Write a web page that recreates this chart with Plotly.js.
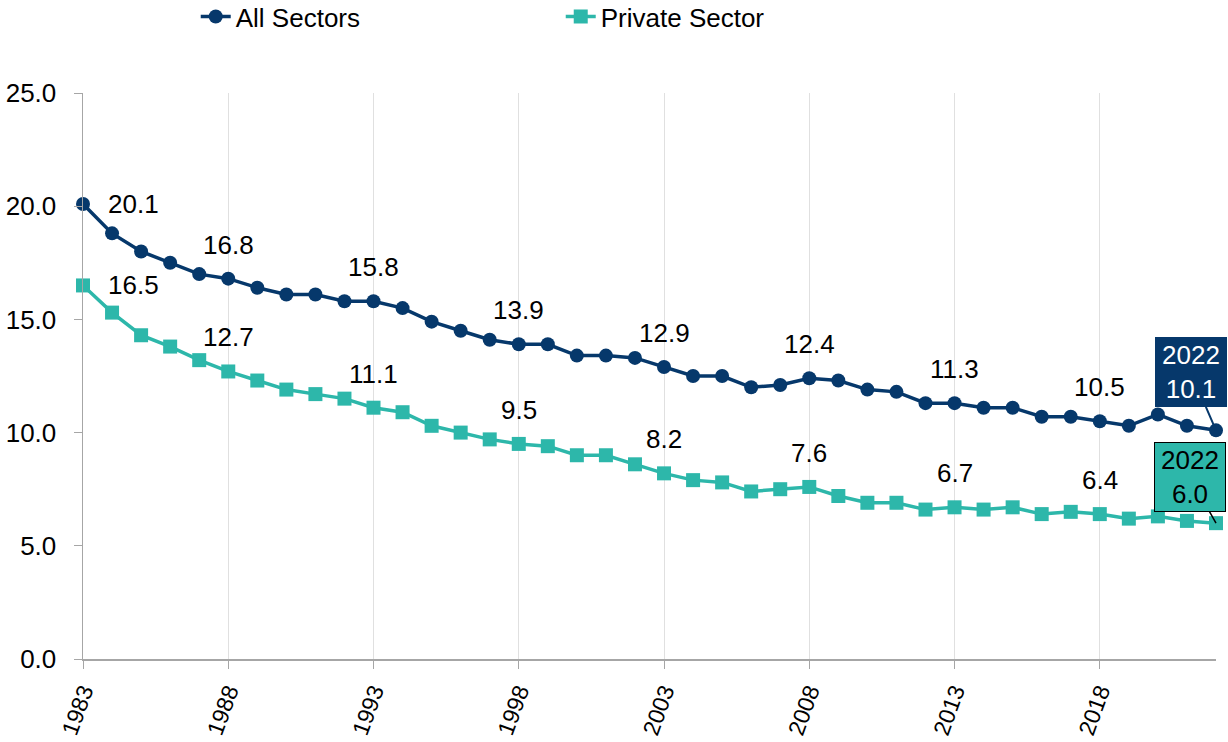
<!DOCTYPE html>
<html>
<head>
<meta charset="utf-8">
<script src="https://cdn.plot.ly/plotly-3.0.1.min.js"></script>
<style>
  html, body { margin: 0; padding: 0; background: #fff; }
  #chart { width: 1228px; height: 742px; }
</style>
</head>
<body>
<div id="chart"></div>
<script>
const years = [];
for (let y = 1983; y <= 2022; y++) years.push(y);

const allSectors = [20.1, 18.8, 18.0, 17.5, 17.0, 16.8, 16.4, 16.1, 16.1, 15.8,
  15.8, 15.5, 14.9, 14.5, 14.1, 13.9, 13.9, 13.4, 13.4, 13.3,
  12.9, 12.5, 12.5, 12.0, 12.1, 12.4, 12.3, 11.9, 11.8, 11.3,
  11.3, 11.1, 11.1, 10.7, 10.7, 10.5, 10.3, 10.8, 10.3, 10.1];

const privateSector = [16.5, 15.3, 14.3, 13.8, 13.2, 12.7, 12.3, 11.9, 11.7, 11.5,
  11.1, 10.9, 10.3, 10.0, 9.7, 9.5, 9.4, 9.0, 9.0, 8.6,
  8.2, 7.9, 7.8, 7.4, 7.5, 7.6, 7.2, 6.9, 6.9, 6.6,
  6.7, 6.6, 6.7, 6.4, 6.5, 6.4, 6.2, 6.3, 6.1, 6.0];

const tickYears = [1983, 1988, 1993, 1998, 2003, 2008, 2013, 2018];
const labelYears = [1983, 1988, 1993, 1998, 2003, 2008, 2013, 2018];

const navy = "#06386b";
const teal = "#2db7aa";
const font = "Liberation Sans, Arial, sans-serif";

const traces = [
  {
    x: years, y: allSectors, name: "All Sectors",
    type: "scatter", mode: "lines+markers",
    line: { color: navy, width: 3.5 },
    marker: { symbol: "circle", size: 14, color: navy },
    cliponaxis: false,
  },
  {
    x: years, y: privateSector, name: "Private Sector",
    type: "scatter", mode: "lines+markers",
    line: { color: teal, width: 3.5 },
    marker: { symbol: "square", size: 14, color: teal },
    cliponaxis: false,
  },
];

// data labels every 5 years
const annotations = [];
[allSectors, privateSector].forEach(series => {
  labelYears.forEach(yr => {
    const v = series[years.indexOf(yr)];
    const first = yr === years[0];
    annotations.push({
      x: yr, y: v, text: v.toFixed(1), showarrow: false,
      xshift: first ? 50 : 0, yshift: first ? 0 : 34,
      font: { family: font, size: 26, color: "#000" },
    });
  });
});

// callouts for the last year
const last = years.length - 1;
annotations.push({
  x: years[last], y: allSectors[last],
  text: years[last] + "<br>" + allSectors[last].toFixed(1),
  showarrow: true, arrowhead: 0, arrowwidth: 2, arrowcolor: navy,
  ax: -25, ay: -58,
  bgcolor: navy, bordercolor: navy, borderwidth: 1, borderpad: 2,
  width: 66, font: { family: font, size: 26, color: "#fff" },
});
annotations.push({
  x: years[last], y: privateSector[last],
  text: years[last] + "<br>" + privateSector[last].toFixed(1),
  showarrow: true, arrowhead: 0, arrowwidth: 1.5, arrowcolor: "#000",
  ax: -26, ay: -46,
  bgcolor: teal, bordercolor: "#000", borderwidth: 1, borderpad: 2,
  width: 66, font: { family: font, size: 26, color: "#000" },
});

const layout = {
  width: 1228, height: 742,
  margin: { l: 83, r: 12, t: 93, b: 83, autoexpand: false },
  paper_bgcolor: "#fff", plot_bgcolor: "#fff",
  font: { family: font, size: 26, color: "#000" },
  showlegend: true,
  legend: {
    orientation: "h", x: 0.0995, xanchor: "left", y: 1.135, yanchor: "middle",
    entrywidth: 320, font: { family: font, size: 26, color: "#000" },
  },
  xaxis: {
    range: [1983, 2022],
    tickvals: tickYears, ticktext: tickYears.map(String),
    tickangle: -70, ticks: "outside", ticklen: 8, tickcolor: "#a6a6a6",
    tickfont: { family: font, size: 23, color: "#000" },
    showgrid: true, gridcolor: "#e0e0e0", gridwidth: 1,
    showline: true, linecolor: "#a6a6a6", linewidth: 2,
    zeroline: false,
  },
  yaxis: {
    range: [0, 25], dtick: 5, tickformat: ".1f",
    ticks: "outside", ticklen: 8, tickcolor: "#a6a6a6",
    ticklabelstandoff: 12,
    tickfont: { family: font, size: 26, color: "#000" },
    showgrid: false, showline: true, linecolor: "#a6a6a6", linewidth: 1.5,
    zeroline: false,
  },
  annotations: annotations,
};

Plotly.newPlot("chart", traces, layout, { displayModeBar: false, staticPlot: true });
</script>
</body>
</html>
